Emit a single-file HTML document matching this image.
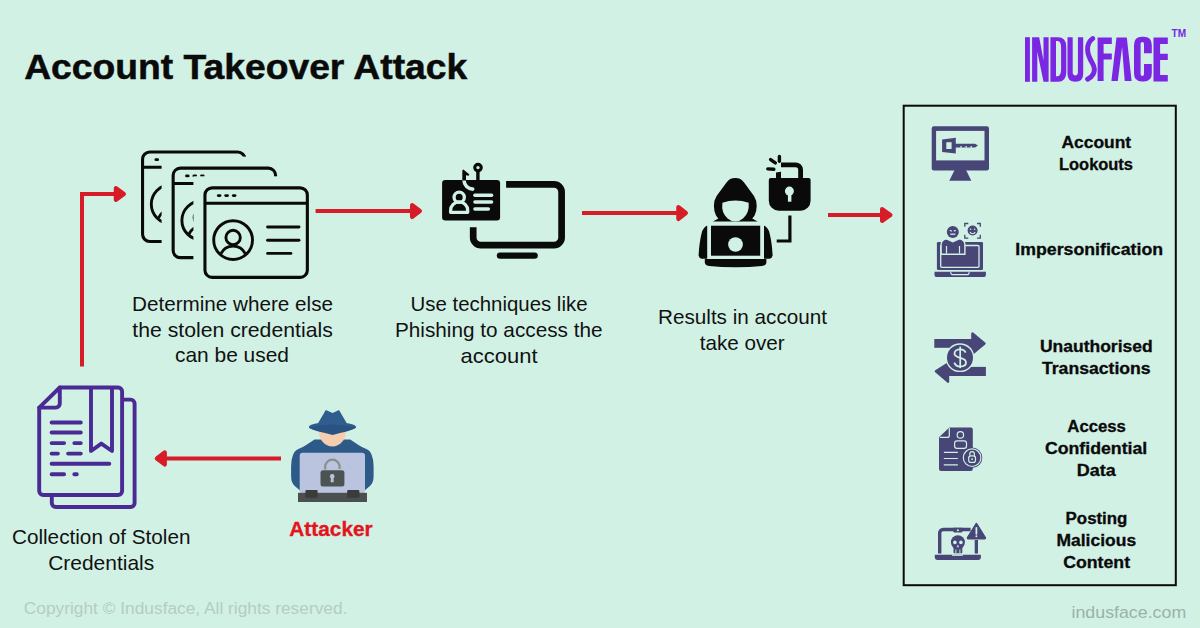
<!DOCTYPE html>
<html><head><meta charset="utf-8"><style>
html,body{margin:0;padding:0;width:1200px;height:628px;overflow:hidden;background:#D1F1E5;}
svg{display:block;}
text{font-family:"Liberation Sans",sans-serif;}
</style></head><body>
<svg width="1200" height="628" viewBox="0 0 1200 628">
<rect width="1200" height="628" fill="#D1F1E5"/>
<!-- TITLE -->
<text x="24.2" y="79.3" font-size="35.2" font-weight="bold" fill="#0A0A0A" stroke="#0A0A0A" stroke-width="0.5" textLength="443" lengthAdjust="spacingAndGlyphs">Account Takeover Attack</text>
<!-- ARROWS -->
<g fill="none" stroke="#D71C27" stroke-width="4">
<path d="M82 366.5V194H115"/>
<path d="M315.6 211H411"/>
<path d="M582 213H677"/>
<path d="M828 215H881"/>
<path d="M281 458.4H166"/>
</g>
<g fill="#D71C27" stroke="#D71C27" stroke-width="4.4" stroke-linejoin="round">
<polygon points="115.95,188.20 123.80,194.00 115.95,199.80"/>
<polygon points="412.20,205.20 419.80,211.00 412.20,216.80"/>
<polygon points="678.45,207.20 685.80,213.00 678.45,218.80"/>
<polygon points="882.20,209.20 890.30,215.00 882.20,220.80"/>
<polygon points="164.70,452.45 156.95,458.40 164.70,464.30"/>
</g>
<!-- BOX -->
<rect x="903.7" y="105.7" width="272.1" height="479.5" fill="none" stroke="#0A0A0A" stroke-width="2"/>
<g id="icon-windows">
<rect x="142.55" y="151.95" width="102.40" height="89.50" rx="7.2" fill="#D1F1E5" stroke="#0A0A0A" stroke-width="3.1"/>
<line x1="155.90" y1="159.70" x2="157.60" y2="159.70" stroke="#0A0A0A" stroke-width="2.8" stroke-linecap="round"/>
<line x1="163.30" y1="159.70" x2="165.10" y2="159.70" stroke="#0A0A0A" stroke-width="2.8" stroke-linecap="round"/>
<line x1="170.90" y1="159.70" x2="172.60" y2="159.70" stroke="#0A0A0A" stroke-width="2.8" stroke-linecap="round"/>
<line x1="142.20" y1="167.30" x2="245.30" y2="167.30" stroke="#0A0A0A" stroke-width="2.9"/>
<circle cx="170.70" cy="204.20" r="19.4" fill="none" stroke="#0A0A0A" stroke-width="2.9"/>
<circle cx="170.70" cy="201.60" r="7.2" fill="none" stroke="#0A0A0A" stroke-width="2.9"/>
<path d="M158.50 217.80A13.6 13.6 0 0 1 182.90 217.80" fill="none" stroke="#0A0A0A" stroke-width="2.9"/>
<line x1="205.20" y1="191.10" x2="236.60" y2="191.10" stroke="#0A0A0A" stroke-width="2.9" stroke-linecap="round"/>
<line x1="205.20" y1="204.40" x2="236.60" y2="204.40" stroke="#0A0A0A" stroke-width="2.9" stroke-linecap="round"/>
<line x1="205.20" y1="217.50" x2="228.50" y2="217.50" stroke="#0A0A0A" stroke-width="2.9" stroke-linecap="round"/>
<rect x="161.6" y="156.6" width="117.5" height="104.6" fill="#D1F1E5"/>
<rect x="173.15" y="168.15" width="102.40" height="89.50" rx="7.2" fill="#D1F1E5" stroke="#0A0A0A" stroke-width="3.1"/>
<line x1="186.50" y1="175.90" x2="188.20" y2="175.90" stroke="#0A0A0A" stroke-width="2.8" stroke-linecap="round"/>
<line x1="193.90" y1="175.90" x2="195.70" y2="175.90" stroke="#0A0A0A" stroke-width="2.8" stroke-linecap="round"/>
<line x1="201.50" y1="175.90" x2="203.20" y2="175.90" stroke="#0A0A0A" stroke-width="2.8" stroke-linecap="round"/>
<line x1="172.80" y1="183.50" x2="275.90" y2="183.50" stroke="#0A0A0A" stroke-width="2.9"/>
<circle cx="201.30" cy="220.40" r="19.4" fill="none" stroke="#0A0A0A" stroke-width="2.9"/>
<circle cx="201.30" cy="217.80" r="7.2" fill="none" stroke="#0A0A0A" stroke-width="2.9"/>
<path d="M189.10 234.00A13.6 13.6 0 0 1 213.50 234.00" fill="none" stroke="#0A0A0A" stroke-width="2.9"/>
<line x1="235.80" y1="207.30" x2="267.20" y2="207.30" stroke="#0A0A0A" stroke-width="2.9" stroke-linecap="round"/>
<line x1="235.80" y1="220.60" x2="267.20" y2="220.60" stroke="#0A0A0A" stroke-width="2.9" stroke-linecap="round"/>
<line x1="235.80" y1="233.70" x2="259.10" y2="233.70" stroke="#0A0A0A" stroke-width="2.9" stroke-linecap="round"/>
<rect x="193.4" y="176.3" width="117.5" height="104.6" fill="#D1F1E5"/>
<rect x="204.95" y="187.85" width="102.40" height="89.50" rx="7.2" fill="#D1F1E5" stroke="#0A0A0A" stroke-width="3.1"/>
<line x1="218.30" y1="195.60" x2="220.00" y2="195.60" stroke="#0A0A0A" stroke-width="2.8" stroke-linecap="round"/>
<line x1="225.70" y1="195.60" x2="227.50" y2="195.60" stroke="#0A0A0A" stroke-width="2.8" stroke-linecap="round"/>
<line x1="233.30" y1="195.60" x2="235.00" y2="195.60" stroke="#0A0A0A" stroke-width="2.8" stroke-linecap="round"/>
<line x1="204.60" y1="203.20" x2="307.70" y2="203.20" stroke="#0A0A0A" stroke-width="2.9"/>
<circle cx="233.10" cy="240.10" r="19.4" fill="none" stroke="#0A0A0A" stroke-width="2.9"/>
<circle cx="233.10" cy="237.50" r="7.2" fill="none" stroke="#0A0A0A" stroke-width="2.9"/>
<path d="M220.90 253.70A13.6 13.6 0 0 1 245.30 253.70" fill="none" stroke="#0A0A0A" stroke-width="2.9"/>
<line x1="267.60" y1="227.00" x2="299.00" y2="227.00" stroke="#0A0A0A" stroke-width="2.9" stroke-linecap="round"/>
<line x1="267.60" y1="240.30" x2="299.00" y2="240.30" stroke="#0A0A0A" stroke-width="2.9" stroke-linecap="round"/>
<line x1="267.60" y1="253.40" x2="290.90" y2="253.40" stroke="#0A0A0A" stroke-width="2.9" stroke-linecap="round"/>
</g>
<g id="icon-phish">
<rect x="442.1" y="179.9" width="58" height="40.5" rx="3.2" fill="#0A0A0A"/>
<circle cx="459.2" cy="197.3" r="5.15" fill="none" stroke="#D1F1E5" stroke-width="3.3"/>
<path d="M450.6 212.3V210.5A8.55 8.55 0 0 1 467.7 210.5V212.3Z" fill="none" stroke="#D1F1E5" stroke-width="3.3" stroke-linejoin="round"/>
<g stroke="#D1F1E5" stroke-width="3.4" stroke-linecap="round">
<line x1="474.9" y1="195.3" x2="491.6" y2="195.3"/>
<line x1="474.9" y1="202" x2="491.6" y2="202"/>
<line x1="474.9" y1="209" x2="488.4" y2="209"/>
</g>
<path d="M464.1 180.5A8.6 8.6 0 0 0 472.7 189.1" fill="none" stroke="#D1F1E5" stroke-width="3.6" stroke-linecap="round"/>
<path d="M462.3 180.5V170.6L463.4 169.4L469.4 174.6L468.6 175.7L466 175.3V180.5Z" fill="#0A0A0A"/>
<line x1="477.9" y1="171" x2="477.9" y2="180.5" stroke="#0A0A0A" stroke-width="3.4"/>
<circle cx="478" cy="167.6" r="3.25" fill="none" stroke="#0A0A0A" stroke-width="3.1"/>
<path d="M506.1 184.3H554A7.6 7.6 0 0 1 561.6 191.9V237.6A7.6 7.6 0 0 1 554 245.2H480.8A7.6 7.6 0 0 1 473.2 237.6V227.3" fill="none" stroke="#0A0A0A" stroke-width="6.7"/>
<line x1="500" y1="255.6" x2="534.6" y2="255.6" stroke="#0A0A0A" stroke-width="6.4" stroke-linecap="round"/>
</g>

<g id="icon-hacker">
<path d="M735.3 178.1C731 178.1 729 179.5 726.5 182.5L716.6 196Q713.5 201 713.9 206Q714 212 716 215.5Q717 217 718.4 218.4L713 221.6H757.6L752.2 218.4Q753.6 217 754.6 215.5Q756.6 212 756.7 206Q757.1 201 754 196L744.1 182.5C741.6 179.5 739.6 178.1 735.3 178.1Z" fill="#0A0A0A"/>
<path d="M722.4 202.8Q735.3 198 748.7 202.8Q749.5 213 743 218.5Q739.5 221.6 735.3 221.6Q731.1 221.6 727.6 218.5Q721.1 213 722.4 202.8Z" fill="#D1F1E5"/>
<path d="M707.2 225.7L706.2 226.1Q703.5 228 702.2 231Q700.2 238 699.1 248.5L698.6 255.4Q699.2 258.3 701.7 258.8H707.2Z" fill="#0A0A0A"/>
<path d="M764 225.7L765 226.1Q767.7 228 769 231Q771 238 772.1 248.5L772.6 255.4Q772 258.3 769.5 258.8H764Z" fill="#0A0A0A"/>
<rect x="711" y="225.7" width="49.2" height="30" fill="#0A0A0A"/>
<circle cx="735.5" cy="244.5" r="7.35" fill="#D1F1E5"/>
<path d="M704.8 258.9H766.4V262.5Q766 265.5 762 266Q750 267.3 735.6 267.3Q721 267.3 709 266Q705.2 265.5 704.8 262.5Z" fill="#0A0A0A"/>
<path d="M768.8 180A2 2 0 0 1 770.8 177.9H808.6A2 2 0 0 1 810.6 180V200.8A10 10 0 0 1 800.6 210.8H778.8A10 10 0 0 1 768.8 200.8Z" fill="#0A0A0A"/>
<circle cx="789.4" cy="191.1" r="4.5" fill="#D1F1E5"/>
<rect x="787.9" y="192" width="3.5" height="9.7" fill="#D1F1E5"/>
<path d="M781 164.8H795.6A5 5 0 0 1 800.6 169.8V178.5" fill="none" stroke="#0A0A0A" stroke-width="4.8"/>
<path d="M776 178.5V172.5L781 171.8V178.5Z" fill="#0A0A0A"/>
<g stroke="#0A0A0A" stroke-width="3.4" stroke-linecap="round">
<line x1="770.6" y1="159.6" x2="775.3" y2="162.9"/>
<line x1="779.4" y1="156.4" x2="779.4" y2="161.2"/>
<line x1="767.8" y1="168.9" x2="773.8" y2="169.3"/>
</g>
<path d="M789.9 215.6V241H776.7" fill="none" stroke="#0A0A0A" stroke-width="3.2"/>
</g>

<g id="icon-doc" fill="none" stroke="#4A2A94" stroke-width="3.9" stroke-linecap="round" stroke-linejoin="round">
<path d="M124 399.6H130.6A4 4 0 0 1 134.6 403.6V503A4 4 0 0 1 130.6 507H55.8A4 4 0 0 1 51.8 503V497"/>
<path d="M39.2 407.6L59.8 387.5H118.1A4 4 0 0 1 122.1 391.5V491A4 4 0 0 1 118.1 495H43.2A4 4 0 0 1 39.2 491Z" fill="#D1F1E5"/>
<path d="M39.2 407.6H55.8A4 4 0 0 0 59.8 403.6V387.5"/>
<path d="M91 389.5V451L101.3 443.6L112 451V389.5"/>
<path d="M51.6 422.5H80.8M51.6 432.5H80.8M51.6 443.1H64.1M74.3 443.1H80.8M51.6 453.6H57.9M68.1 453.6H80.8M51.6 463.7H109.3M51.6 474.2H64.1M74.3 474.2H76.8"/>
</g>

<g id="icon-attacker">
<path d="M314.5 439.5L306.2 445Q302 447.8 298.4 448.9Q294.5 450.5 293 455Q291 460 291.1 466V476.8Q291.3 483 294.5 485.7L300.6 491H364.1L370.2 485.7Q373.4 483 373.6 476.8V466Q373.7 460 371.7 455Q370.2 450.5 366.3 448.9Q362.7 447.8 358.5 445L350.2 439.5Z" fill="#2E5A8A"/>
<path d="M318.8 431.2A13.6 15.3 0 0 0 346 431.2Z" fill="#F6CDAE"/>
<path d="M325.8 410L332.6 412.9L339 410L347.8 425H317Z" fill="#2F5E8E"/>
<ellipse cx="332.45" cy="426.9" rx="23.6" ry="4.8" fill="#2F5E8E"/>
<path d="M308.9 427.3Q320 424.6 332.5 424.6Q345 424.6 356 427.3Q351 430.8 341 432.8L332.6 435.1L324 432.8Q314 430.8 308.9 427.3Z" fill="#2A5382"/>
<rect x="299.7" y="452.7" width="65.3" height="41" rx="3" fill="#BAC4DF"/>
<path d="M325.2 469.5V466.8A7.2 7.2 0 0 1 339.6 466.8V469" fill="none" stroke="#8A8F8E" stroke-width="2.2"/>
<rect x="320.5" y="470.2" width="23.9" height="16.4" rx="2.5" fill="#4D5352"/>
<circle cx="332.2" cy="476.4" r="2.3" fill="#BAC4DF"/>
<path d="M331 477L330.6 482.3H333.8L333.4 477Z" fill="#BAC4DF"/>
<rect x="298" y="492.8" width="69" height="9.2" fill="#4A504F"/>
<rect x="305.4" y="490" width="12.2" height="7.8" rx="1" fill="#383D3C"/>
<rect x="347.2" y="490" width="12.2" height="7.8" rx="1" fill="#383D3C"/>
</g>

<g id="box-icons" fill="#474676">
<!-- B1 monitor key -->
<rect x="931.7" y="126.3" width="57.3" height="44.2" rx="2.2"/>
<rect x="936.1" y="130.9" width="48.4" height="29.5" fill="#D1F1E5"/>
<path d="M954.6 170H966L971.3 180.7H949.3Z"/>
<path d="M942.1 139.6L955.8 137.7V153.4L942.1 152Z"/>
<rect x="946.3" y="142.2" width="5.3" height="6.8" fill="#D1F1E5"/>
<path d="M955 143.7H975L978 145.6L975 147.5H955Z"/>
<rect x="960.2" y="146.2" width="1.6" height="1.4" fill="#D1F1E5"/>
<rect x="965.4" y="146.2" width="1.6" height="1.4" fill="#D1F1E5"/>
<rect x="970.4" y="146.2" width="1.6" height="1.4" fill="#D1F1E5"/>
<!-- B2 impersonation -->
<rect x="936.9" y="242.1" width="46.1" height="27.8" rx="1.2"/>
<rect x="940.7" y="245.5" width="38.3" height="21.8" rx="1" fill="none" stroke="#D1F1E5" stroke-width="1.3"/>
<path d="M934.5 271.7H985.9V274.5A2.6 2.6 0 0 1 983.3 277.1H937.1A2.6 2.6 0 0 1 934.5 274.5Z"/>
<path d="M950.9 271.7V273.3A1.3 1.3 0 0 0 952.2 274.6H967.7A1.3 1.3 0 0 0 969 273.3V271.7" fill="none" stroke="#D1F1E5" stroke-width="1.1"/>
<path d="M940.4 255V245A6 6 0 0 1 946.4 238.3H959.6A6 6 0 0 1 965.6 245V255Z" fill="#D1F1E5"/>
<path d="M941.8 253.6V245.2A5 5 0 0 1 946.8 239.6H959.2A5 5 0 0 1 964.2 245.2V253.6Z"/>
<path d="M946.5 246V253.6M959.5 246V253.6" stroke="#D1F1E5" stroke-width="1.2"/>
<path d="M946.5 253.6H959.5" stroke="#D1F1E5" stroke-width="0"/>
<path d="M946.2 239.6L952.8 242.6L959.4 239.6V238.2H946.2Z" fill="#D1F1E5"/>
<circle cx="952.8" cy="232.1" r="6"/>
<path d="M949.8 230.2L951.8 231.3M955.8 230.2L953.8 231.3" stroke="#D1F1E5" stroke-width="1.1"/>
<path d="M950.3 234.2H955.3" stroke="#D1F1E5" stroke-width="1.3"/>
<circle cx="972.6" cy="230.5" r="5"/>
<circle cx="970.6" cy="229.3" r="0.8" fill="#D1F1E5"/>
<circle cx="974.6" cy="229.3" r="0.8" fill="#D1F1E5"/>
<path d="M970 232A2.8 2.8 0 0 0 975.2 232" fill="none" stroke="#D1F1E5" stroke-width="1.1"/>
<path d="M964.8 226.8V223.5H968.3M977 223.5H980.3V226.8M980.3 234.8V238.1H977M968.3 238.1H964.8V234.8" fill="none" stroke="#474676" stroke-width="1.3"/>
<!-- B3 transfer -->
<rect x="934.3" y="339" width="38" height="8.8"/>
<path d="M971.2 333.5A1.2 1.2 0 0 1 973.2 332.6L985.2 342.6A1.3 1.3 0 0 1 985.2 344.6L973.2 354.6A1.2 1.2 0 0 1 971.2 353.7Z"/>
<rect x="948" y="366.9" width="37.9" height="9.1"/>
<path d="M949.2 363.7A1.2 1.2 0 0 0 947.2 362.8L935.2 370.2A1.3 1.3 0 0 0 935.2 372.2L947.2 382.6A1.2 1.2 0 0 0 949.2 381.7Z"/>
<circle cx="960" cy="357.7" r="14.4" fill="#D1F1E5"/>
<circle cx="960" cy="357.7" r="13.0"/>
<path d="M960.2 346.6V368.1" stroke="#D1F1E5" stroke-width="1.7"/>
<path d="M965.6 352.6C964.8 350.3 962.7 349.3 960.2 349.3C956.8 349.3 954.5 351.1 954.5 353.6C954.5 356.4 957.3 357.2 960.2 357.9C963.4 358.6 966 359.8 966 362.6C966 365.2 963.4 366.6 960.2 366.6C957.3 366.6 955.3 365.3 954.3 362.6" fill="none" stroke="#D1F1E5" stroke-width="1.8"/>
<!-- B4 doc lock -->
<path d="M939 437.3L949.3 427.4H970.8A2 2 0 0 1 972.8 429.4V468.9A2 2 0 0 1 970.8 470.9H941A2 2 0 0 1 939 468.9Z"/>
<path d="M939.8 437.4H947.3A2 2 0 0 0 949.3 435.4V428" fill="none" stroke="#D1F1E5" stroke-width="1.2"/>
<circle cx="960.4" cy="434.9" r="3.2" fill="none" stroke="#D1F1E5" stroke-width="1.2"/>
<rect x="954.6" y="440.8" width="11.9" height="7.5" rx="2.3" fill="none" stroke="#D1F1E5" stroke-width="1.2"/>
<path d="M944.3 452.3H957.4M944.3 458.5H957.4M944.3 464.9H957.4" stroke="#D1F1E5" stroke-width="1.2" stroke-linecap="round"/>
<circle cx="972.1" cy="457.7" r="10.2"/>
<circle cx="972.1" cy="457.7" r="8.8" fill="none" stroke="#D1F1E5" stroke-width="1.2"/>
<path d="M969.8 455.8V453.9A2.3 2.3 0 0 1 974.4 453.9V455.8" fill="none" stroke="#D1F1E5" stroke-width="1.2"/>
<rect x="968.7" y="455.8" width="6.8" height="6.6" rx="2.2" fill="none" stroke="#D1F1E5" stroke-width="1.2"/>
<circle cx="972.1" cy="459.2" r="0.9" fill="#D1F1E5"/>
<!-- B5 malicious -->
<path d="M939.7 553.5V533A3.5 3.5 0 0 1 943.2 529.5H970.6" fill="none" stroke="#474676" stroke-width="3.4"/>
<rect x="974.7" y="540" width="3.3" height="13.5"/>
<path d="M953.3 527.8H962.5V531.3A1.3 1.3 0 0 1 961.2 532.6H954.6A1.3 1.3 0 0 1 953.3 531.3Z"/>
<circle cx="957.9" cy="530.3" r="1" fill="#D1F1E5"/>
<path d="M934.8 554.7H980.9V557.5A2.4 2.4 0 0 1 978.5 559.9H937.2A2.4 2.4 0 0 1 934.8 557.5Z"/>
<rect x="952" y="554.7" width="10.8" height="1.1" fill="#D1F1E5"/>
<circle cx="957.9" cy="542.2" r="7"/>
<rect x="953.5" y="545" width="8.8" height="8.3" rx="1"/>
<circle cx="954.9" cy="542.4" r="1.8" fill="#D1F1E5"/>
<circle cx="960.9" cy="542.4" r="1.8" fill="#D1F1E5"/>
<path d="M957.9 544.6L956.8 547.3H959L957.9 544.6Z" fill="#D1F1E5"/>
<path d="M955.9 549.5V553.3M959.9 549.5V553.3" stroke="#D1F1E5" stroke-width="0.9"/>
<path d="M976.4 523.5L967.5 537.6A0.8 0.8 0 0 0 968.2 538.8H984.6A0.8 0.8 0 0 0 985.3 537.6Z" stroke="#474676" stroke-width="1.5" stroke-linejoin="round"/>
<path d="M976.4 527.8V533.8" stroke="#D1F1E5" stroke-width="1.8" stroke-linecap="round"/>
<circle cx="976.4" cy="536.3" r="1" fill="#D1F1E5"/>
</g>

<g id="logo" fill="#7B26E3">
<rect x="1025" y="37.2" width="4.9" height="44.6"/>
<path d="M1032.1 37.2H1039.2L1043.5 60.4V37.2H1048.6V81.8H1043.5L1037.3 51.8V81.8H1032.1Z"/>
<path d="M1050.4 37.2H1058Q1066.3 37.2 1066.3 47V72Q1066.3 81.8 1058 81.8H1050.4ZM1056 41V76.3H1057.6Q1061.1 76.3 1061.1 69V48Q1061.1 41 1057.6 41Z" fill-rule="evenodd"/>
<path d="M1067.5 37.2H1072.7V72.6Q1072.7 75.4 1075.3 75.4Q1077.9 75.4 1077.9 72.6V37.2H1083.2V74Q1083.2 81.8 1075.3 81.8Q1067.5 81.8 1067.5 74Z"/>
<path d="M1092.8 38.6Q1087.2 42.5 1087.6 50Q1088 56 1092.3 63Q1095.8 69 1093.3 74Q1091.3 77.5 1087.6 79.3" fill="none" stroke="#7B26E3" stroke-width="4.9" stroke-linecap="round"/>
<path d="M1097.6 37.6H1111.8V44H1103.6V53.5H1111.8V59.5H1103.6V81H1097.6Z"/>
<path d="M1116.5 37.6H1126.8L1131.6 81H1124.7L1122.1 47L1117.8 81H1111.4Z"/>
<path d="M1142 36.7H1143.6Q1151.8 36.7 1151.8 45V53.2H1144V43.7Q1144 42 1142.3 42Q1140.6 42 1140.6 43.7V74.3Q1140.6 76 1142.3 76Q1144 76 1144 74.3V63.9H1151.8V73.3Q1151.8 81.6 1143.6 81.6H1142Q1134 81.6 1134 73.3V45Q1134 36.7 1142 36.7Z"/>
<path d="M1153.5 37.6H1167.8V44H1160.1V53.7H1167.8V60H1160.1V75H1167.8V81.4H1153.5Z"/>
<text x="1171.5" y="36.7" font-size="10.8" font-weight="bold" font-family="Liberation Sans, sans-serif" textLength="14.6" lengthAdjust="spacingAndGlyphs">TM</text>
</g>


<!-- TEXTS -->
<g font-size="19.8" fill="#111" text-anchor="middle">
<text x="232.5" y="311.3" textLength="201" lengthAdjust="spacingAndGlyphs">Determine where else</text>
<text x="232.5" y="336.6" textLength="200.5" lengthAdjust="spacingAndGlyphs">the stolen credentials</text>
<text x="232" y="362" textLength="114" lengthAdjust="spacingAndGlyphs">can be used</text>
<text x="499" y="310.5" textLength="177" lengthAdjust="spacingAndGlyphs">Use techniques like</text>
<text x="498.75" y="337" textLength="207.5" lengthAdjust="spacingAndGlyphs">Phishing to access the</text>
<text x="499" y="362.5" textLength="77" lengthAdjust="spacingAndGlyphs">account</text>
<text x="742.5" y="323.7" textLength="169" lengthAdjust="spacingAndGlyphs">Results in account</text>
<text x="742.2" y="349.5" textLength="85" lengthAdjust="spacingAndGlyphs">take over</text>
<text x="101.2" y="543.7" textLength="178.5" lengthAdjust="spacingAndGlyphs">Collection of Stolen</text>
<text x="101.2" y="569.7" textLength="106" lengthAdjust="spacingAndGlyphs">Credentials</text>
</g>
<text x="331" y="535.9" font-size="19.3" font-weight="bold" fill="#E3141E" stroke="#E3141E" stroke-width="0.3" text-anchor="middle" textLength="83.4" lengthAdjust="spacingAndGlyphs">Attacker</text>
<g font-size="15.6" font-weight="bold" fill="#0A0A0A" stroke="#0A0A0A" stroke-width="0.3" text-anchor="middle">
<text x="1096.3" y="148" textLength="69.7" lengthAdjust="spacingAndGlyphs">Account</text>
<text x="1096" y="169.7" textLength="74" lengthAdjust="spacingAndGlyphs">Lookouts</text>
<text x="1089.2" y="254.7" textLength="147.8" lengthAdjust="spacingAndGlyphs">Impersonification</text>
<text x="1096.3" y="351.6" textLength="112.7" lengthAdjust="spacingAndGlyphs">Unauthorised</text>
<text x="1096.3" y="373.7" textLength="108.7" lengthAdjust="spacingAndGlyphs">Transactions</text>
<text x="1096.6" y="431.9" textLength="58.6" lengthAdjust="spacingAndGlyphs">Access</text>
<text x="1096.1" y="454" textLength="102.4" lengthAdjust="spacingAndGlyphs">Confidential</text>
<text x="1096.3" y="475.7" textLength="39" lengthAdjust="spacingAndGlyphs">Data</text>
<text x="1096.5" y="523.7" textLength="61.8" lengthAdjust="spacingAndGlyphs">Posting</text>
<text x="1096.3" y="545.8" textLength="79.6" lengthAdjust="spacingAndGlyphs">Malicious</text>
<text x="1096.6" y="567.7" textLength="66.9" lengthAdjust="spacingAndGlyphs">Content</text>
</g>
<text x="23.8" y="614.2" font-size="17.2" fill="#B5CCC3" textLength="323.6" lengthAdjust="spacingAndGlyphs">Copyright © Indusface, All rights reserved.</text>
<text x="1071.5" y="618.1" font-size="16.8" fill="#9BB2A8" textLength="114.7" lengthAdjust="spacingAndGlyphs">indusface.com</text>
</svg>
</body></html>
